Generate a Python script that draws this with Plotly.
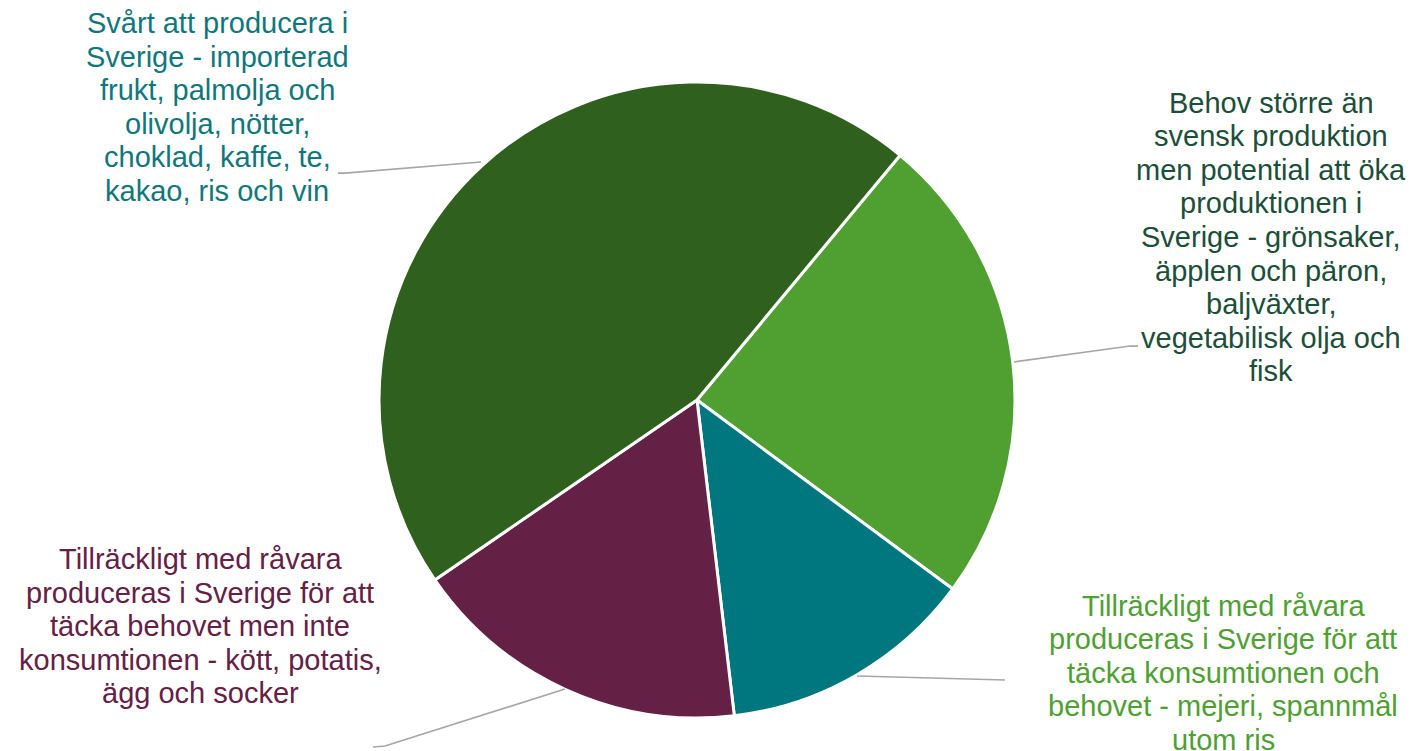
import plotly.graph_objects as go

# Data
categories = [
    "Behov större än svensk produktion men potential att öka produktionen i Sverige - grönsaker, äpplen och päron, baljväxter, vegetabilisk olja och fisk",
    "Tillräckligt med råvara produceras i Sverige för att täcka konsumtionen och behovet - mejeri, spannmål utom ris",
    "Tillräckligt med råvara produceras i Sverige för att täcka behovet men inte konsumtionen - kött, potatis, ägg och socker",
    "Svårt att producera i Sverige - importerad frukt, palmolja och olivolja, nötter, choklad, kaffe, te, kakao, ris och vin",
]
values = [24.1, 13.0, 17.3, 45.6]
label_lines = [
    ["Behov större än", "svensk produktion", "men potential att öka", "produktionen i",
     "Sverige - grönsaker,", "äpplen och päron,", "baljväxter,", "vegetabilisk olja och", "fisk"],
    ["Tillräckligt med råvara", "produceras i Sverige för att", "täcka konsumtionen och",
     "behovet - mejeri, spannmål", "utom ris"],
    ["Tillräckligt med råvara", "produceras i Sverige för att", "täcka behovet men inte",
     "konsumtionen - kött, potatis,", "ägg och socker"],
    ["Svårt att producera i", "Sverige - importerad", "frukt, palmolja och",
     "olivolja, nötter,", "choklad, kaffe, te,", "kakao, ris och vin"],
]

slice_colors = ["#4F9F31", "#00767E", "#652046", "#30601D"]
text_colors = ["#1B4F3A", "#4EA032", "#652046", "#0F777C"]

W, H = 1414, 751

def px(x):
    return x / W

def py(y):
    return 1 - y / H

# layout: label block (center x, first line y) in pixels, and leader line paths
label_pos = [(1271, 102.5), (1223, 605.5), (200, 559), (217, 23)]
line_step = 33.6
leaders = [
    [(1014, 362), (1130, 346), (1138, 346)],
    [(857, 676), (1005, 680)],
    [(565, 689), (385, 746), (373, 747)],
    [(481, 162), (345, 173), (338, 173)],
]

cx, cy, r = 697, 400, 318

fig = go.Figure(
    go.Pie(
        labels=categories,
        values=values,
        sort=False,
        direction="clockwise",
        rotation=39.7,
        marker=dict(colors=slice_colors, line=dict(color="white", width=3)),
        textinfo="none",
        hoverinfo="label+percent",
        domain=dict(x=[px(cx - r), px(cx + r)], y=[py(cy + r), py(cy - r)]),
        showlegend=False,
    )
)

for lines, col, (lx, ly) in zip(label_lines, text_colors, label_pos):
    for i, txt in enumerate(lines):
        fig.add_annotation(
            x=px(lx), y=py(ly + i * line_step), xref="paper", yref="paper",
            text=txt, showarrow=False, xanchor="center", yanchor="middle",
            align="center",
            font=dict(family="Liberation Sans, Arial, sans-serif", size=29, color=col),
        )

for pts in leaders:
    path = "M " + " L ".join(f"{px(x)},{py(y)}" for x, y in pts)
    fig.add_shape(type="path", path=path, xref="paper", yref="paper",
                  line=dict(color="#A6A6A6", width=1.75))

fig.update_layout(
    width=W, height=H,
    margin=dict(l=0, r=0, t=0, b=0),
    paper_bgcolor="white", plot_bgcolor="white",
)

fig.write_html(
    "out.html",
    config={"displayModeBar": False},
    post_script="document.body.style.margin='0';document.body.style.overflow='hidden';",
)
